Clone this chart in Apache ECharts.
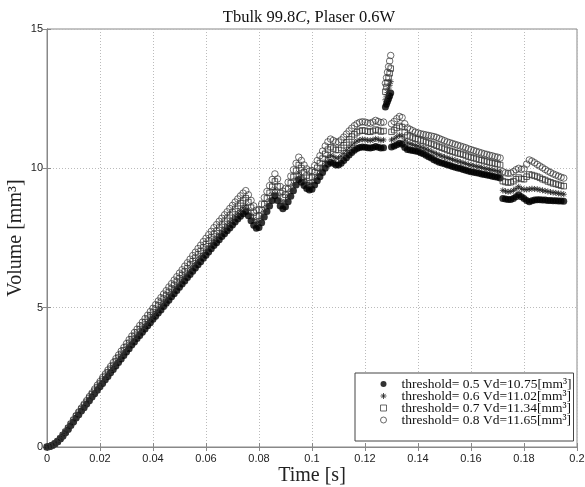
<!DOCTYPE html>
<html>
<head>
<meta charset="utf-8">
<script src="https://cdn.jsdelivr.net/npm/echarts@6/dist/echarts.min.js"></script>
<style>
  html, body { margin: 0; padding: 0; background: #fff; }
  #chart { width: 585px; height: 487px; }
</style>
</head>
<body>
<div id="chart"></div>
<script>
// time grid [s]: regular 1 ms steps, with the short spike burst sampled finer
const TIME_A = { from: 0, to: 0.127 }
const TIME_SPIKE = [0.1277, 0.1281, 0.1285, 0.1289, 0.1293, 0.1297]
const TIME_B = { from: 0.130, to: 0.195 }

const NAMES = [
  'threshold= 0.5 Vd=10.75[mm³]',
  'threshold= 0.6 Vd=11.02[mm³]',
  'threshold= 0.7 Vd=11.34[mm³]',
  'threshold= 0.8 Vd=11.65[mm³]'
]

// volume [mm3], threshold 0.5
const V05 = [
  0.00, 0.02, 0.06, 0.12, 0.19, 0.29, 0.39, 0.51, 0.63, 0.77,
  0.90, 1.04, 1.16, 1.29, 1.41, 1.54, 1.66, 1.79, 1.91, 2.04,
  2.16, 2.28, 2.41, 2.53, 2.66, 2.78, 2.91, 3.03, 3.16, 3.28,
  3.41, 3.53, 3.66, 3.77, 3.89, 4.00, 4.12, 4.23, 4.35, 4.46,
  4.58, 4.69, 4.81, 4.92, 5.04, 5.16, 5.27, 5.39, 5.50, 5.62,
  5.73, 5.85, 5.96, 6.08, 6.19, 6.31, 6.42, 6.54, 6.65, 6.77,
  6.88, 7.00, 7.11, 7.23, 7.33, 7.44, 7.55, 7.65, 7.76, 7.86,
  7.97, 8.07, 8.18, 8.28, 8.37, 8.45,
  8.30, 8.12, 7.96, 7.85, 7.88, 8.05, 8.25, 8.45, 8.65, 8.85,
  9.02, 8.85, 8.65, 8.55, 8.62, 8.80, 9.00, 9.20, 9.40, 9.60,
  9.50, 9.38, 9.28, 9.22, 9.25, 9.40, 9.55, 9.70, 9.85, 10.00,
  10.15, 10.22, 10.18, 10.12, 10.12, 10.18, 10.28, 10.38, 10.48, 10.57,
  10.65, 10.71, 10.75, 10.77, 10.76, 10.74, 10.73, 10.75, 10.78, 10.76,
  10.73, 10.74,
  12.20, 12.30, 12.40, 12.50, 12.60, 12.70,
  10.77, 10.80, 10.85, 10.90, 10.86, 10.75, 10.68, 10.66, 10.64, 10.62,
  10.60, 10.56, 10.52, 10.47, 10.42, 10.37, 10.31, 10.26, 10.22, 10.19,
  10.16, 10.13, 10.10, 10.07, 10.04, 10.01, 9.99, 9.96, 9.93, 9.90,
  9.88, 9.86, 9.84, 9.82, 9.80, 9.78, 9.76, 9.74, 9.72, 9.70,
  9.68, 9.65, 8.92, 8.90, 8.88, 8.88, 8.92, 8.98, 9.05, 8.98,
  8.92, 8.85, 8.80, 8.84, 8.86, 8.87, 8.87, 8.86, 8.86, 8.85,
  8.85, 8.84, 8.84, 8.83, 8.83, 8.82
]

// threshold 0.6
const V06 = [
  0.00, 0.02, 0.06, 0.12, 0.20, 0.30, 0.40, 0.52, 0.65, 0.79,
  0.93, 1.06, 1.19, 1.32, 1.45, 1.58, 1.70, 1.83, 1.96, 2.09,
  2.22, 2.34, 2.47, 2.60, 2.73, 2.86, 2.98, 3.11, 3.24, 3.37,
  3.50, 3.62, 3.75, 3.87, 3.99, 4.11, 4.23, 4.34, 4.46, 4.58,
  4.70, 4.82, 4.93, 5.05, 5.17, 5.29, 5.41, 5.53, 5.64, 5.76,
  5.88, 6.00, 6.12, 6.24, 6.35, 6.47, 6.59, 6.71, 6.83, 6.94,
  7.06, 7.18, 7.30, 7.42, 7.53, 7.63, 7.74, 7.85, 7.96, 8.07,
  8.18, 8.28, 8.39, 8.49, 8.59, 8.67,
  8.53, 8.34, 8.17, 8.05, 8.07, 8.25, 8.46, 8.67, 8.87, 9.08,
  9.25, 9.08, 8.86, 8.74, 8.82, 9.01, 9.22, 9.43, 9.63, 9.84,
  9.73, 9.60, 9.49, 9.42, 9.45, 9.61, 9.77, 9.93, 10.08, 10.24,
  10.39, 10.47, 10.43, 10.37, 10.37, 10.43, 10.53, 10.64, 10.74, 10.83,
  10.91, 10.98, 11.02, 11.04, 11.03, 11.01, 11.00, 11.02, 11.06, 11.04,
  11.00, 11.02,
  12.46, 12.59, 12.72, 12.85, 12.98, 13.11,
  11.02, 11.06, 11.13, 11.19, 11.15, 11.01, 10.91, 10.88, 10.85, 10.82,
  10.80, 10.76, 10.73, 10.69, 10.65, 10.61, 10.56, 10.52, 10.48, 10.44,
  10.41, 10.38, 10.35, 10.32, 10.29, 10.26, 10.23, 10.20, 10.17, 10.14,
  10.12, 10.09, 10.07, 10.05, 10.03, 10.00, 9.98, 9.96, 9.94, 9.92,
  9.90, 9.87, 9.21, 9.18, 9.16, 9.17, 9.21, 9.27, 9.34, 9.27,
  9.24, 9.24, 9.25, 9.27, 9.26, 9.25, 9.23, 9.21, 9.19, 9.17,
  9.15, 9.13, 9.12, 9.10, 9.09, 9.07
]

// threshold 0.7
const V07 = [
  0.00, 0.02, 0.06, 0.12, 0.20, 0.30, 0.42, 0.54, 0.67, 0.81,
  0.95, 1.10, 1.23, 1.36, 1.49, 1.62, 1.76, 1.89, 2.02, 2.15,
  2.28, 2.42, 2.55, 2.68, 2.81, 2.94, 3.08, 3.21, 3.34, 3.47,
  3.60, 3.74, 3.87, 3.99, 4.11, 4.23, 4.35, 4.48, 4.60, 4.72,
  4.84, 4.96, 5.09, 5.21, 5.33, 5.45, 5.57, 5.69, 5.82, 5.94,
  6.06, 6.18, 6.30, 6.42, 6.55, 6.67, 6.79, 6.91, 7.03, 7.16,
  7.28, 7.40, 7.52, 7.64, 7.75, 7.87, 7.98, 8.09, 8.20, 8.31,
  8.42, 8.54, 8.65, 8.75, 8.85, 8.93,
  8.79, 8.59, 8.41, 8.27, 8.30, 8.49, 8.71, 8.92, 9.12, 9.34,
  9.53, 9.35, 9.11, 8.96, 9.05, 9.26, 9.47, 9.69, 9.91, 10.12,
  10.01, 9.86, 9.74, 9.66, 9.69, 9.86, 10.02, 10.19, 10.35, 10.52,
  10.67, 10.76, 10.71, 10.66, 10.66, 10.73, 10.83, 10.93, 11.04, 11.14,
  11.22, 11.29, 11.34, 11.36, 11.35, 11.32, 11.31, 11.34, 11.39, 11.36,
  11.32, 11.34,
  12.75, 12.92, 13.08, 13.25, 13.41, 13.58,
  11.31, 11.37, 11.45, 11.52, 11.48, 11.30, 11.18, 11.14, 11.10, 11.06,
  11.04, 11.00, 10.98, 10.94, 10.91, 10.88, 10.85, 10.81, 10.77, 10.74,
  10.70, 10.66, 10.63, 10.60, 10.57, 10.54, 10.52, 10.49, 10.46, 10.42,
  10.39, 10.37, 10.34, 10.31, 10.29, 10.26, 10.24, 10.21, 10.19, 10.17,
  10.15, 10.12, 9.54, 9.51, 9.49, 9.50, 9.54, 9.61, 9.67, 9.62,
  9.61, 9.70, 9.78, 9.76, 9.73, 9.70, 9.66, 9.61, 9.58, 9.53,
  9.50, 9.46, 9.44, 9.41, 9.38, 9.36
]

// threshold 0.8
const V08 = [
  0.00, 0.02, 0.06, 0.13, 0.21, 0.31, 0.43, 0.55, 0.69, 0.84,
  0.98, 1.13, 1.26, 1.40, 1.54, 1.67, 1.81, 1.94, 2.08, 2.22,
  2.35, 2.49, 2.62, 2.76, 2.89, 3.03, 3.17, 3.30, 3.44, 3.57,
  3.71, 3.85, 3.98, 4.11, 4.23, 4.36, 4.48, 4.61, 4.73, 4.86,
  4.98, 5.11, 5.24, 5.36, 5.49, 5.61, 5.74, 5.86, 5.99, 6.11,
  6.24, 6.36, 6.49, 6.61, 6.74, 6.87, 6.99, 7.12, 7.24, 7.37,
  7.49, 7.62, 7.74, 7.87, 7.98, 8.10, 8.21, 8.33, 8.44, 8.56,
  8.67, 8.79, 8.90, 9.01, 9.11, 9.20,
  9.05, 8.85, 8.65, 8.50, 8.52, 8.72, 8.95, 9.17, 9.38, 9.60,
  9.80, 9.62, 9.35, 9.18, 9.28, 9.50, 9.72, 9.95, 10.18, 10.40,
  10.28, 10.12, 9.98, 9.90, 9.92, 10.10, 10.28, 10.45, 10.62, 10.80,
  10.95, 11.05, 11.00, 10.95, 10.95, 11.02, 11.12, 11.23, 11.34, 11.44,
  11.53, 11.60, 11.65, 11.67, 11.66, 11.63, 11.62, 11.66, 11.72, 11.68,
  11.64, 11.66,
  13.05, 13.25, 13.45, 13.65, 13.85, 14.05,
  11.60, 11.68, 11.78, 11.86, 11.82, 11.60, 11.45, 11.40, 11.35, 11.30,
  11.27, 11.24, 11.22, 11.20, 11.18, 11.16, 11.14, 11.11, 11.07, 11.03,
  10.99, 10.95, 10.92, 10.89, 10.86, 10.83, 10.80, 10.77, 10.74, 10.70,
  10.67, 10.64, 10.61, 10.58, 10.55, 10.52, 10.50, 10.47, 10.45, 10.42,
  10.40, 10.37, 9.88, 9.84, 9.82, 9.83, 9.88, 9.95, 10.00, 9.96,
  9.98, 10.15, 10.30, 10.26, 10.20, 10.14, 10.08, 10.02, 9.96, 9.90,
  9.85, 9.80, 9.76, 9.72, 9.68, 9.65
]

const X_TICKS = { min: 0, max: 0.2, interval: 0.02 }
const Y_TICKS = { min: 0, max: 15, interval: 5 }

const SERIF = 'Liberation Serif'
const SANS = 'Liberation Sans'
const AXIS_COLOR = '#888'

const STAR = 'path://M5,0V10M0,5H10M1.5,1.5L8.5,8.5M1.5,8.5L8.5,1.5'
const SQUARE = 'path://M0,0H10V10H0Z'

function steps(range) {
  const out = []
  const n = Math.round((range.to - range.from) / 0.001)
  for (let i = 0; i <= n; i++) out.push(+(range.from + i * 0.001).toFixed(4))
  return out
}
const TIME = steps(TIME_A).concat(TIME_SPIKE, steps(TIME_B))

function points(values) {
  return TIME.map((t, i) => [t, values[i]])
}

const hollow = c => ({ color: 'rgba(0,0,0,0)', borderColor: c, borderWidth: 1 })

const chart = echarts.init(document.getElementById('chart'))

const xBase = {
  type: 'value',
  min: X_TICKS.min,
  max: X_TICKS.max,
  interval: X_TICKS.interval,
  axisLine: { lineStyle: { color: AXIS_COLOR } },
  axisTick: { inside: true, length: 4, lineStyle: { color: AXIS_COLOR } }
}
const yBase = {
  type: 'value',
  min: Y_TICKS.min,
  max: Y_TICKS.max,
  interval: Y_TICKS.interval,
  axisLine: { lineStyle: { color: AXIS_COLOR } },
  axisTick: { inside: true, length: 4, lineStyle: { color: AXIS_COLOR } }
}

chart.setOption({
  animation: false,
  backgroundColor: '#fff',
  title: {
    text: 'Tbulk 99.8{i|C}, Plaser 0.6W',
    left: 304,
    top: 4,
    textAlign: 'center',
    textStyle: {
      fontFamily: SERIF,
      fontSize: 16.5,
      fontWeight: 'normal',
      color: '#111',
      rich: {
        i: { fontFamily: SERIF, fontSize: 16.5, fontStyle: 'italic', color: '#111' }
      }
    }
  },
  grid: {
    left: 47,
    right: 8,
    top: 29,
    bottom: 40,
    outerBoundsMode: 'none',
    show: true,
    borderColor: AXIS_COLOR,
    borderWidth: 1
  },
  legend: {
    left: 355,
    top: 373,
    orient: 'vertical',
    data: [
      { name: NAMES[0], icon: 'circle', itemStyle: { color: '#000', borderWidth: 0 } },
      { name: NAMES[1], icon: STAR, itemStyle: hollow('#222') },
      { name: NAMES[2], icon: SQUARE, itemStyle: hollow('#444') },
      { name: NAMES[3], icon: 'circle', itemStyle: hollow('#444') }
    ],
    backgroundColor: '#fff',
    borderColor: '#444',
    borderWidth: 1,
    padding: [4, 2, 14, 25],
    itemWidth: 26,
    itemHeight: 6,
    itemGap: -2,
    textStyle: { fontFamily: SERIF, fontSize: 13.5, lineHeight: 11, color: '#111' }
  },
  xAxis: [
    Object.assign({}, xBase, {
      position: 'bottom',
      name: 'Time [s]',
      nameLocation: 'middle',
      nameGap: 19,
      nameMoveOverlap: false,
      nameTextStyle: { fontFamily: SERIF, fontSize: 20, color: '#222' },
      axisLabel: {
        margin: 6,
        fontFamily: SANS,
        fontSize: 11,
        color: '#222',
        formatter: v => String(+v.toFixed(2))
      },
      splitLine: { show: true, lineStyle: { type: [1, 2], color: '#bbb' } }
    }),
    Object.assign({}, xBase, {
      position: 'top',
      axisLabel: { show: false },
      splitLine: { show: false }
    })
  ],
  yAxis: [
    Object.assign({}, yBase, {
      position: 'left',
      name: 'Volume [mm³]',
      nameLocation: 'middle',
      nameGap: 21,
      nameMoveOverlap: false,
      nameTextStyle: { fontFamily: SERIF, fontSize: 20, color: '#222' },
      axisLabel: { margin: 4, fontFamily: SANS, fontSize: 11, color: '#222' },
      splitLine: { show: true, lineStyle: { type: [1, 2], color: '#bbb' } }
    }),
    Object.assign({}, yBase, {
      position: 'right',
      axisLabel: { show: false },
      splitLine: { show: false }
    })
  ],
  series: [
    {
      name: NAMES[0],
      type: 'scatter',
      data: points(V05),
      symbol: 'circle',
      symbolSize: 7,
      itemStyle: { color: '#000' }
    },
    {
      name: NAMES[1],
      type: 'scatter',
      data: points(V06),
      symbol: STAR,
      symbolSize: 6,
      itemStyle: hollow('#222')
    },
    {
      name: NAMES[2],
      type: 'scatter',
      data: points(V07),
      symbol: SQUARE,
      symbolSize: 5.5,
      itemStyle: hollow('#333')
    },
    {
      name: NAMES[3],
      type: 'scatter',
      data: points(V08),
      symbol: 'circle',
      symbolSize: 6.5,
      itemStyle: { color: 'rgba(0,0,0,0)', borderColor: '#333', borderWidth: 0.9 }
    }
  ]
})
</script>
</body>
</html>
